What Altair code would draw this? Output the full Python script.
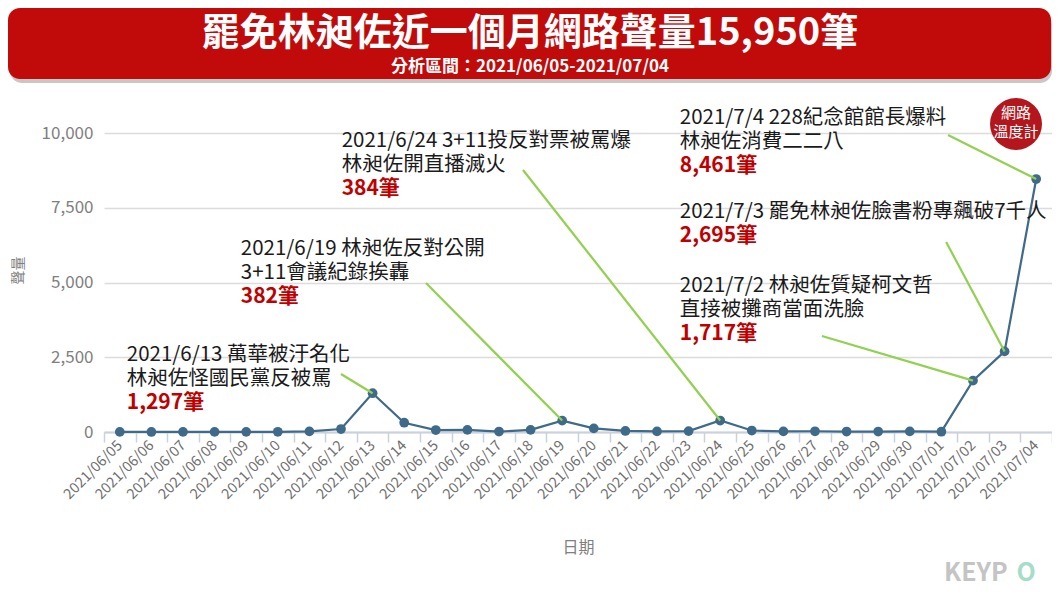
import altair as alt
import pandas as pd

FONT = "Noto Sans CJK TC"

# ---------------- data ----------------
dates = [
    "2021/06/05", "2021/06/06", "2021/06/07", "2021/06/08", "2021/06/09",
    "2021/06/10", "2021/06/11", "2021/06/12", "2021/06/13", "2021/06/14",
    "2021/06/15", "2021/06/16", "2021/06/17", "2021/06/18", "2021/06/19",
    "2021/06/20", "2021/06/21", "2021/06/22", "2021/06/23", "2021/06/24",
    "2021/06/25", "2021/06/26", "2021/06/27", "2021/06/28", "2021/06/29",
    "2021/06/30", "2021/07/01", "2021/07/02", "2021/07/03", "2021/07/04",
]
volumes = [
    3, 2, 4, 3, 5,
    6, 20, 100, 1297, 310,
    65, 70, 15, 70, 382,
    120, 35, 20, 30, 384,
    50, 20, 25, 15, 15,
    20, 10, 1717, 2695, 8461,
]

ann_dates = ["2021/06/13", "2021/06/19", "2021/06/24", "2021/07/02", "2021/07/03", "2021/07/04"]
ann_lines = [
    ["2021/6/13 萬華被汙名化", "林昶佐怪國民黨反被罵"],
    ["2021/6/19 林昶佐反對公開", "3+11會議紀錄挨轟"],
    ["2021/6/24 3+11投反對票被罵爆", "林昶佐開直播滅火"],
    ["2021/7/2 林昶佐質疑柯文哲", "直接被攤商當面洗臉"],
    ["2021/7/3 罷免林昶佐臉書粉專飆破7千人"],
    ["2021/7/4 228紀念館館長爆料", "林昶佐消費二二八"],
]
ann_counts = ["1,297筆", "382筆", "384筆", "1,717筆", "2,695筆", "8,461筆"]

title_text = "罷免林昶佐近一個月網路聲量15,950筆"
subtitle_text = "分析區間：2021/06/05-2021/07/04"
y_ticks = [0, 2500, 5000, 7500, 10000]

# ---------------- layout (annotation placement, in index / value units) ----------------
ann_text_x = [0.22, 3.83, 7.02, 17.72, 17.72, 17.72]
ann_text_top = [2575, 6120, 9731, 4882, 7357, 10500]
ann_lead_x = [7.0, 9.69, 12.76, 22.22, 26.15, 26.21]
ann_lead_y = [1940, 4983, 8761, 3210, 6354, 9932]
LINE_STEP = 805  # one text line (~24px) in value units

W, H = 948, 299
PAD = {"left": 96, "top": 125, "right": 0, "bottom": 156}

series = pd.DataFrame({"date": dates, "volume": volumes})

text_rows, count_rows, lead_rows = [], [], []
for i, d in enumerate(ann_dates):
    for k, line in enumerate(ann_lines[i]):
        text_rows.append({"xi": ann_text_x[i], "volume": ann_text_top[i] - k * LINE_STEP, "t": line})
    count_rows.append({"xi": ann_text_x[i],
                       "volume": ann_text_top[i] - len(ann_lines[i]) * LINE_STEP,
                       "t": ann_counts[i]})
    idx = dates.index(d)
    lead_rows.append({"xi": ann_lead_x[i], "volume": ann_lead_y[i],
                      "xe": idx, "ye": volumes[idx]})
text_df = pd.DataFrame(text_rows)
count_df = pd.DataFrame(count_rows)
lead_df = pd.DataFrame(lead_rows)

# ---------------- main series ----------------
x_main = alt.X(
    "date:O", sort=None,
    scale=alt.Scale(type="band", paddingInner=0, paddingOuter=0),
    axis=alt.Axis(
        title="日期", labelAngle=315, labelAlign="right", labelBaseline="middle",
        labelFontSize=14.5, labelColor="#6e6e6e", labelFont=FONT, labelPadding=1,
        tickBand="extent", tickSize=10, tickColor="#c9d2dc", tickWidth=1.5,
        domainColor="#c9d2dc", domainWidth=2, grid=False,
        titleFontSize=16, titleColor="#808080", titleFont=FONT, titleFontWeight="normal",
        titleY=115, titleBaseline="middle",
    ),
)
y_main = alt.Y(
    "volume:Q",
    scale=alt.Scale(domain=[0, 10000], nice=False),
    axis=alt.Axis(
        values=y_ticks, labelExpr="format(datum.value, ',')", title="聲量",
        grid=True, gridColor="#dcdcdc", gridWidth=1.5, domain=False, ticks=False,
        labelPadding=11, labelFontSize=17, labelColor="#808080", labelFont=FONT,
        titleFontSize=14, titleColor="#808080", titleFont=FONT, titleFontWeight="normal",
        titleX=-86, titleY=137, titleAlign="center", titleBaseline="middle",
    ),
)
line = alt.Chart(series).mark_line(color="#3f6a8a", strokeWidth=2.2).encode(x=x_main, y=y_main)
pts = alt.Chart(series).mark_circle(size=95, color="#3f6a8a", opacity=1).encode(x=x_main, y=y_main)
main = alt.layer(line, pts)

# ---------------- annotations ----------------
xa = alt.X("xi:Q", scale=alt.Scale(domain=[-0.5, 29.5], nice=False, zero=False), axis=None)

leads = alt.Chart(lead_df).mark_rule(color="#92d050", strokeWidth=2.2).encode(
    x=xa, y=y_main, x2="xe:Q", y2="ye:Q")
texts = alt.Chart(text_df).mark_text(
    align="left", baseline="middle", font=FONT, fontSize=20.5, color="#1a1a1a"
).encode(x=xa, y=y_main, text="t:N")
counts = alt.Chart(count_df).mark_text(
    align="left", baseline="middle", font=FONT, fontSize=21, fontWeight="bold", color="#c00000"
).encode(x=xa, y=y_main, text="t:N")
ann = alt.layer(leads, texts, counts)

# ---------------- decorations ----------------
deco = alt.Data(values=[{"k": 0}])
shadow = alt.Chart(deco).mark_rect(color="#000000", opacity=0.22, cornerRadius=12).encode(
    x=alt.value(-94), x2=alt.value(948), y=alt.value(-121), y2=alt.value(-50))
banner = alt.Chart(deco).mark_rect(color="#c10b0b", cornerRadius=12).encode(
    x=alt.value(-96), x2=alt.value(947), y=alt.value(-125), y2=alt.value(-54))
title = alt.Chart(deco).mark_text(
    text=title_text, font=FONT, fontSize=38, fontWeight="bold", color="white",
    align="center", baseline="middle").encode(x=alt.value(426), y=alt.value(-99))
subtitle = alt.Chart(deco).mark_text(
    text=subtitle_text, font=FONT, fontSize=17, fontWeight="bold", color="white",
    align="center", baseline="middle").encode(x=alt.value(426), y=alt.value(-66))
badge = alt.Chart(deco).mark_point(filled=True, size=2700, color="#b3171d", opacity=1).encode(
    x=alt.value(912), y=alt.value(-9))
badge_t1 = alt.Chart(deco).mark_text(
    text="網路", font=FONT, fontSize=15, color="white", align="center", baseline="middle"
).encode(x=alt.value(912), y=alt.value(-20))
badge_t2 = alt.Chart(deco).mark_text(
    text="溫度計", font=FONT, fontSize=15, color="white", align="center", baseline="middle"
).encode(x=alt.value(912), y=alt.value(-1))
keyp = alt.Chart(deco).mark_text(
    text="KEYP", font=FONT, fontSize=25, fontWeight="bold", color="#c4c4c4",
    align="left", baseline="middle").encode(x=alt.value(840), y=alt.value(440))
keyo = alt.Chart(deco).mark_text(
    text="O", font=FONT, fontSize=25, fontWeight="bold", color="#a6dcc9",
    align="center", baseline="middle").encode(x=alt.value(922), y=alt.value(440))
decor = alt.layer(shadow, banner, title, subtitle, badge, badge_t1, badge_t2, keyp, keyo)

chart = alt.layer(main, ann, decor).resolve_scale(x="independent").properties(
    width=W, height=H,
    autosize=alt.AutoSizeParams(type="none"),
    padding=PAD,
    background="white",
).configure_view(stroke=None)

chart.save("out.html", embed_options={"renderer": "svg", "actions": False})
